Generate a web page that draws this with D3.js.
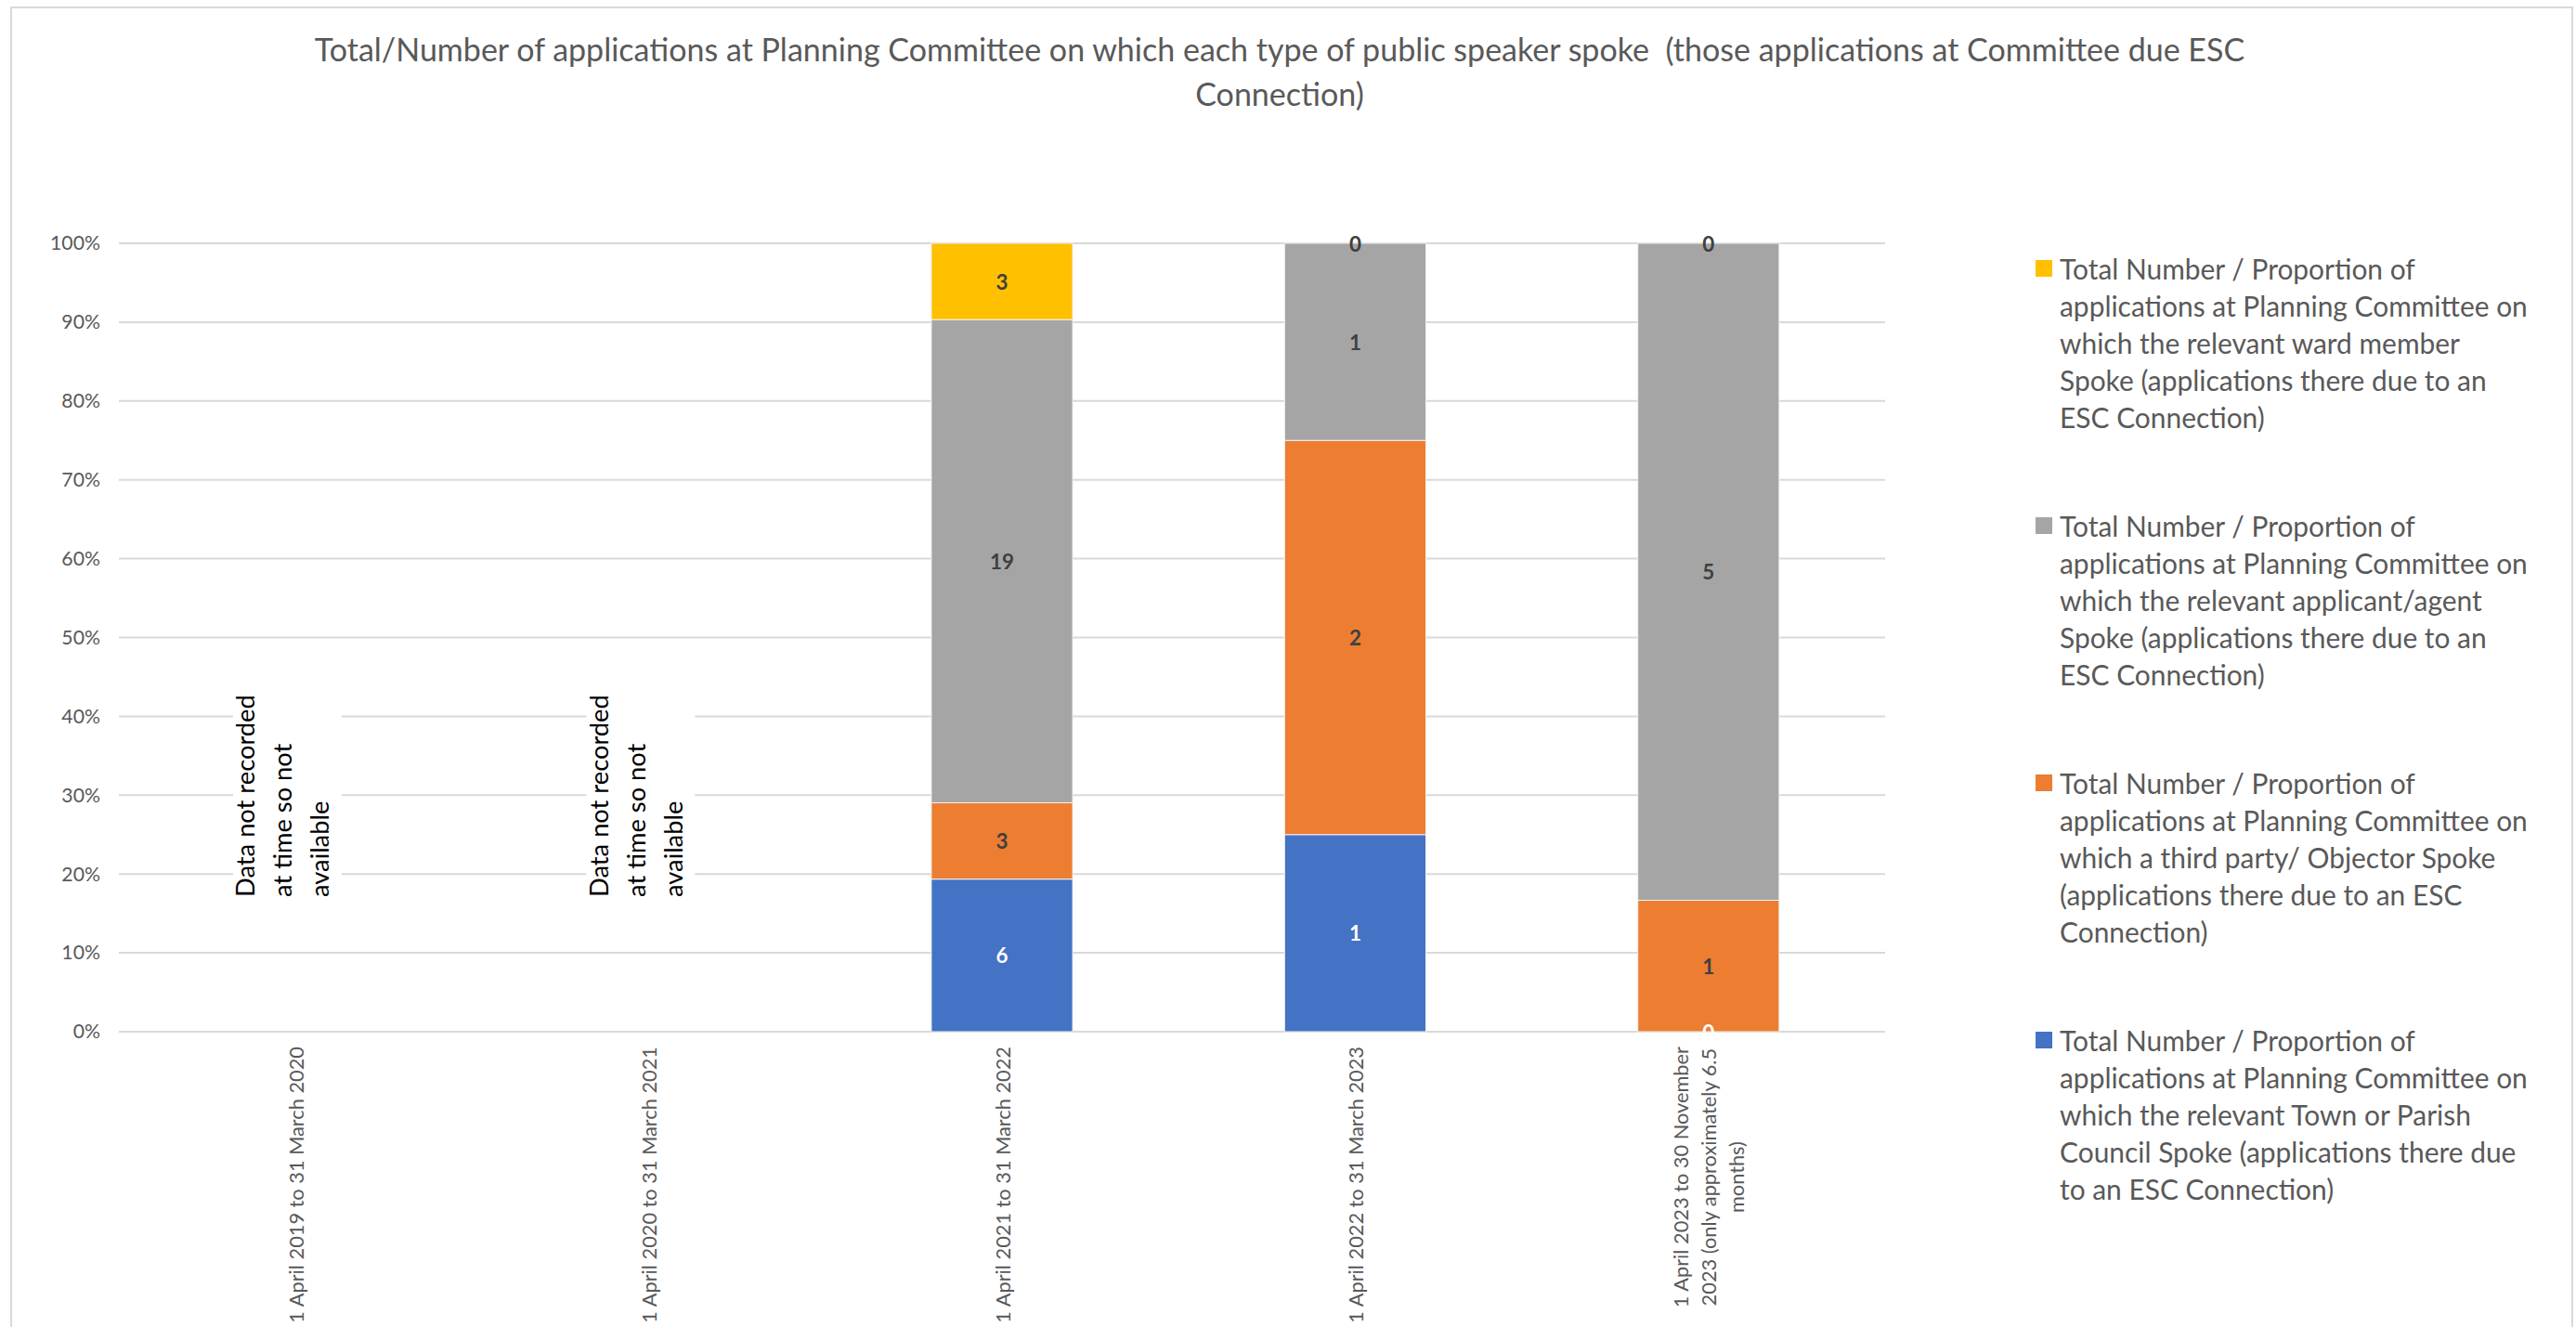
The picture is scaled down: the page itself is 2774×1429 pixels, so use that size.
<!DOCTYPE html>
<html>
<head>
<meta charset="utf-8">
<script src="https://cdn.jsdelivr.net/npm/d3@7"></script>
<style>
  html, body { margin: 0; padding: 0; background: #fff; }
  svg { display: block; }
</style>
</head>
<body>
<svg id="chart" width="2774" height="1429"></svg>
<script>
// ---------------- DATA ----------------
const titleLines = [
  "Total/Number of applications at Planning Committee on which each type of public speaker spoke  (those applications at Committee due ESC",
  "Connection)"
];
const categories = [
  "1 April 2019 to 31 March 2020",
  "1 April 2020 to 31 March 2021",
  "1 April 2021 to 31 March 2022",
  "1 April 2022 to 31 March 2023",
  "1 April 2023 to 30 November 2023 (only approximately 6.5 months)"
];
const categoryLines = [
  ["1 April 2019 to 31 March 2020"],
  ["1 April 2020 to 31 March 2021"],
  ["1 April 2021 to 31 March 2022"],
  ["1 April 2022 to 31 March 2023"],
  ["1 April 2023 to 30 November", "2023 (only approximately 6.5", "months)"]
];
// stacked bottom -> top
const townParish     = [null, null, 6, 1, 0];
const thirdParty     = [null, null, 3, 2, 1];
const applicantAgent = [null, null, 19, 1, 5];
const wardMember     = [null, null, 3, 0, 0];

const seriesKeys = ["townParish", "thirdParty", "applicantAgent", "wardMember"];
const seriesValues = { townParish, thirdParty, applicantAgent, wardMember };
const seriesColors = ["#4472C4", "#ED7D31", "#A5A5A5", "#FFC000"];
const seriesLabelColors = ["#FFFFFF", "#404040", "#404040", "#404040"];
const seriesLegendLines = [
  ["Total Number / Proportion of", "applications at Planning Committee on", "which the relevant Town or Parish", "Council Spoke (applications there due", "to an ESC Connection)"],
  ["Total Number / Proportion of", "applications at Planning Committee on", "which a third party/ Objector Spoke", "(applications there due to an ESC", "Connection)"],
  ["Total Number / Proportion of", "applications at Planning Committee on", "which the relevant applicant/agent", "Spoke (applications there due to an", "ESC Connection)"],
  ["Total Number / Proportion of", "applications at Planning Committee on", "which the relevant ward member", "Spoke (applications there due to an", "ESC Connection)"]
];
const yTicks = [0, 0.1, 0.2, 0.3, 0.4, 0.5, 0.6, 0.7, 0.8, 0.9, 1.0];
const noDataNote = ["Data not recorded", "at time so not", "available"];

// ---------------- LAYOUT ----------------
const W = 2774, H = 1429;
const FONT = "Lato, 'Open Sans', sans-serif";
const TEXT = "#595959";
const GRID = "#D9D9D9";
const plot = { left: 128, right: 2030, top: 262, bottom: 1111 };

const svg = d3.select("#chart");

function fitSize(text, weight, target) {
  const t = svg.append("text")
    .attr("font-family", FONT).attr("font-weight", weight)
    .attr("font-size", 100).style("white-space", "pre").text(text);
  const w = t.node().getComputedTextLength();
  t.remove();
  return 100 * target / w;
}

const fsTitle  = fitSize(titleLines[0], 400, 2079);
const fsTick   = fitSize("100%", 400, 54);
const fsXLab   = fitSize(categoryLines[0][0], 400, 298);
const fsData   = fitSize("19", 700, 26);
const fsLegend = fitSize(seriesLegendLines[0][0], 400, 383);
const fsNote   = fitSize(noDataNote[0], 400, 218);

// outer chart border
svg.append("rect")
  .attr("x", 12).attr("y", 8).attr("width", 2758).attr("height", 1460)
  .attr("fill", "#fff").attr("stroke", GRID).attr("stroke-width", 2);

// title
svg.append("g").selectAll("text").data(titleLines).join("text")
  .attr("x", 1378).attr("y", (d, i) => 52 + i * 48)
  .attr("text-anchor", "middle").attr("dominant-baseline", "central")
  .attr("font-family", FONT).attr("font-size", fsTitle).attr("fill", TEXT)
  .style("white-space", "pre")
  .text(d => d);

// scales
const x = d3.scaleBand().domain(categories)
  .range([plot.left, plot.right]).paddingInner(0.6).paddingOuter(0.3);
const y = d3.scaleLinear().domain([0, 1]).range([plot.bottom, plot.top]);

// gridlines
svg.append("g").selectAll("line").data(yTicks).join("line")
  .attr("x1", plot.left).attr("x2", plot.right)
  .attr("y1", d => y(d)).attr("y2", d => y(d))
  .attr("stroke", GRID).attr("stroke-width", 2);

// y axis labels
const yAxis = d3.axisLeft(y).tickValues(yTicks).tickFormat(d3.format(".0%")).tickSize(0).tickPadding(0);
const yg = svg.append("g").attr("transform", `translate(${plot.left - 20},0)`).call(yAxis);
yg.select(".domain").remove();
yg.selectAll("text").attr("font-family", FONT).attr("font-size", fsTick).attr("fill", TEXT);

// stacked data
const rows = categories.map((c, i) => {
  const r = { category: c, hasData: seriesKeys.every(k => seriesValues[k][i] !== null) };
  seriesKeys.forEach(k => r[k] = seriesValues[k][i] === null ? 0 : seriesValues[k][i]);
  return r;
});
const dataRows = rows.filter(r => r.hasData);
const stacked = d3.stack().keys(seriesKeys).offset(d3.stackOffsetExpand)(dataRows);

const barsG = svg.append("g");
stacked.forEach((layer, si) => {
  barsG.append("g").attr("fill", seriesColors[si])
    .selectAll("rect").data(layer).join("rect")
    .attr("x", d => x(d.data.category))
    .attr("width", x.bandwidth())
    .attr("y", d => y(d[1]))
    .attr("height", d => y(d[0]) - y(d[1]))
    .attr("stroke", "#f2f2f2").attr("stroke-width", 1);
});

// data labels
stacked.forEach((layer, si) => {
  svg.append("g").selectAll("text").data(layer).join("text")
    .attr("x", d => x(d.data.category) + x.bandwidth() / 2)
    .attr("y", d => y((d[0] + d[1]) / 2))
    .attr("text-anchor", "middle").attr("dominant-baseline", "central")
    .attr("font-family", FONT).attr("font-weight", 700).attr("font-size", fsData)
    .attr("fill", seriesLabelColors[si])
    .text(d => d.data[layer.key]);
});

// x-axis category labels (rotated)
const xLineH = 30;
const xLabTop = 1127;
categories.forEach((c, i) => {
  const lines = categoryLines[i];
  const g = svg.append("g")
    .attr("transform", `translate(${x(c) + x.bandwidth() / 2},${xLabTop})`);
  const texts = g.selectAll("text").data(lines).join("text")
    .attr("font-family", FONT).attr("font-size", fsXLab).attr("fill", TEXT)
    .attr("text-anchor", "middle").attr("dominant-baseline", "central")
    .text(d => d);
  const maxLen = d3.max(texts.nodes(), n => n.getComputedTextLength());
  texts.attr("transform", (d, j) =>
    `translate(${(j - (lines.length - 1) / 2) * xLineH},${maxLen / 2}) rotate(-90)`);
});

// "no data" notes for categories without data
const noteBottom = 966;
const noteLineH = 40;
const noteFirst = -44;
rows.filter(r => !r.hasData).forEach(r => {
  const cx = x(r.category) + x.bandwidth() / 2;
  const g = svg.append("g").attr("transform", `translate(${cx},${noteBottom})`);
  const bg = g.append("rect").attr("fill", "#fff");
  const texts = g.selectAll("text.note").data(noDataNote).join("text")
    .attr("class", "note")
    .attr("font-family", FONT).attr("font-size", fsNote).attr("fill", "#000")
    .attr("text-anchor", "start")
    .attr("transform", (d, j) => `translate(${noteFirst + j * noteLineH},0) rotate(-90)`)
    .text(d => d);
  const maxLen = d3.max(texts.nodes(), n => n.getComputedTextLength());
  const left = noteFirst - fsNote * 0.85;
  const right = noteFirst + (noDataNote.length - 1) * noteLineH + fsNote * 0.5;
  bg.attr("x", left).attr("width", right - left)
    .attr("y", -maxLen - 12).attr("height", maxLen + 24);
});

// legend (top to bottom: ward member, applicant/agent, third party, town/parish)
const legendOrder = [3, 2, 1, 0];
const legX = 2192, legTextX = 2218, legTop = 289, legStep = 277, legLineH = 40;
legendOrder.forEach((si, k) => {
  const gy = legTop + k * legStep;
  const g = svg.append("g").attr("transform", `translate(0,${gy})`);
  g.append("rect").attr("x", legX).attr("y", -9).attr("width", 18).attr("height", 18)
    .attr("fill", seriesColors[si]);
  g.selectAll("text").data(seriesLegendLines[si]).join("text")
    .attr("x", legTextX).attr("y", (d, j) => j * legLineH)
    .attr("dominant-baseline", "central")
    .attr("font-family", FONT).attr("font-size", fsLegend).attr("fill", TEXT)
    .text(d => d);
});
</script>
</body>
</html>
